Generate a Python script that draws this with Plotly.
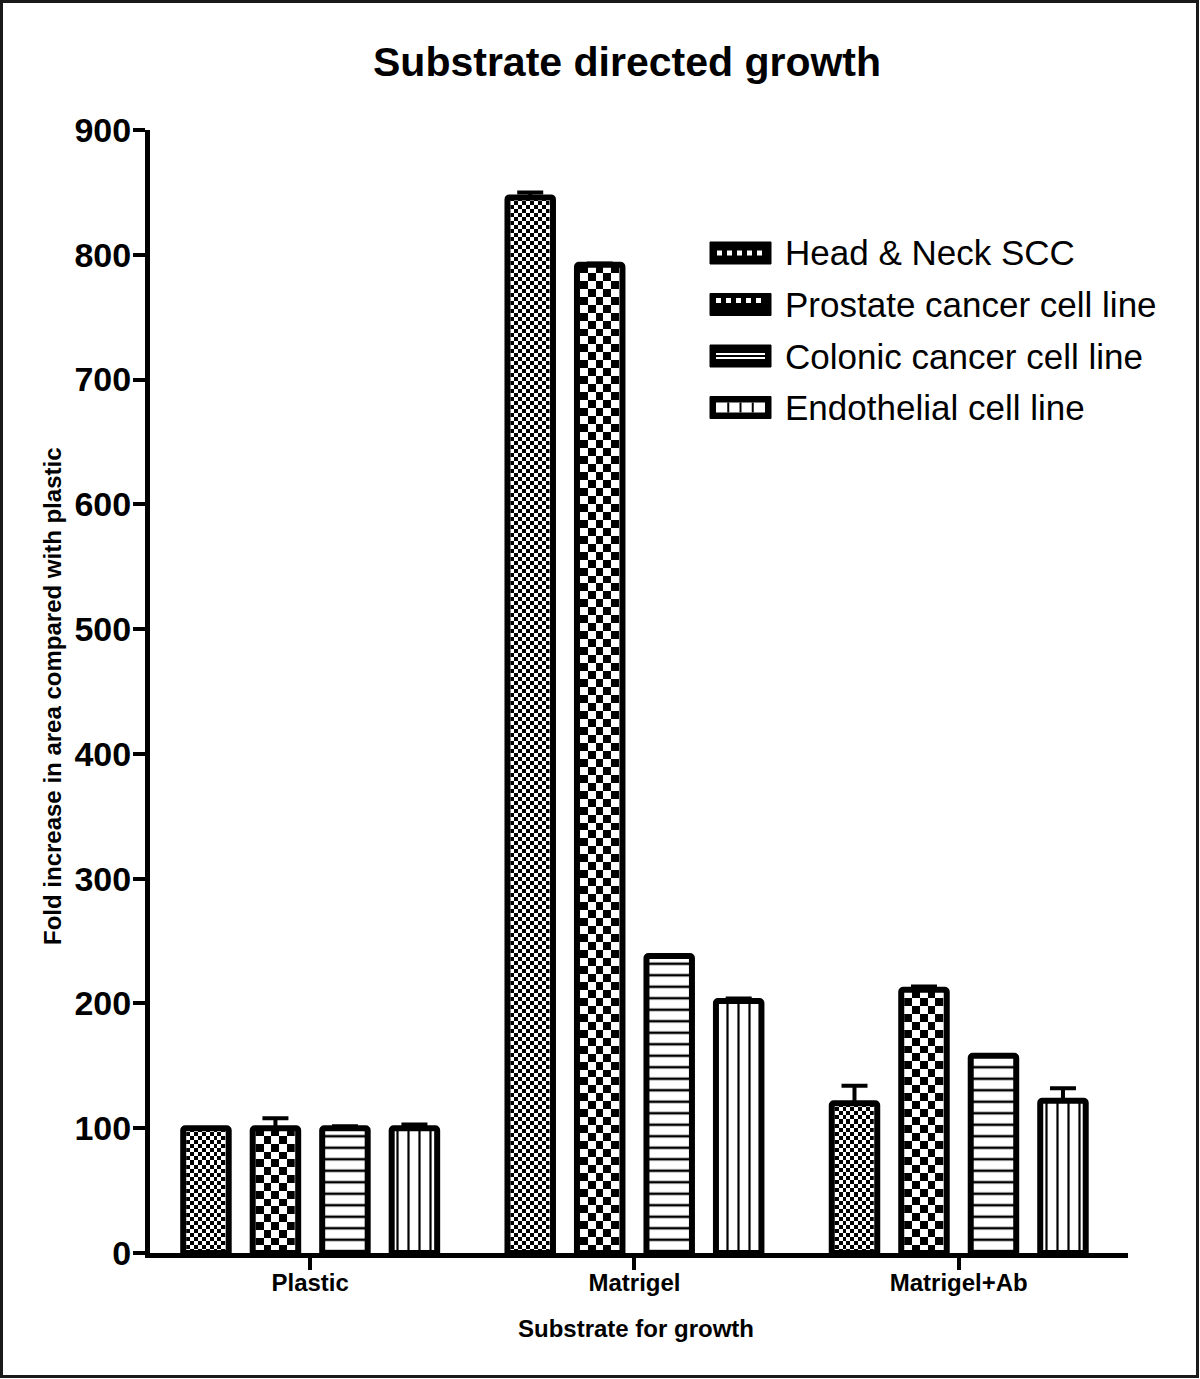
import plotly.graph_objects as go


CATEGORIES = ["Plastic", "Matrigel", "Matrigel+Ab"]

SERIES = [
    "Head & Neck SCC",
    "Prostate cancer cell line",
    "Colonic cancer cell line",
    "Endothelial cell line"
]

HEAD_NECK = [100, 846, 120]
PROSTATE = [100, 792, 211]
COLONIC = [100, 238, 158]
ENDOTHELIAL = [100, 202, 122]

HEAD_NECK_ERR = [0, 4, 14]
PROSTATE_ERR = [8, 1, 2.5]
COLONIC_ERR = [1.5, 0, 0.5]
ENDOTHELIAL_ERR = [3, 2, 10]

Y_TICKS = [0, 100, 200, 300, 400, 500, 600, 700, 800, 900]


# layout geometry (pixels of the 1200x1379 page)
W, H = 1200, 1379
PLOT_L, PLOT_R, PLOT_T, PLOT_B = 150, 1128, 130, 1253
X_RANGE = [-0.494, 2.522]
SLOT = 0.2143
BAR_W = 0.1403
OUTLINE = 6

PX_PER_X = (PLOT_R - PLOT_L) / (X_RANGE[1] - X_RANGE[0])
PX_PER_Y = (PLOT_B - PLOT_T) / 900

FONT = "Liberation Sans, Arial, sans-serif"


def px_x(p):
    return (p - PLOT_L) / (PLOT_R - PLOT_L)


def px_y(p):
    return (PLOT_B - p) / (PLOT_B - PLOT_T)


def checker(fig, x_center, value, cols, cell_px):
    inner = BAR_W - OUTLINE / PX_PER_X
    dx = inner / cols
    rows = max(1, round(value * PX_PER_Y / cell_px))
    dy = value / rows
    z = [[(r + c) % 2 for c in range(cols)] for r in range(rows)]
    fig.add_trace(
        go.Heatmap(
            z=z,
            x0=x_center - inner / 2 + dx / 2,
            dx=dx,
            y0=dy / 2,
            dy=dy,
            colorscale=[[0, "white"], [1, "black"]],
            zmin=0,
            zmax=1,
            showscale=False,
            hoverinfo="skip"
        )
    )


fig = go.Figure()

series_data = [
    (HEAD_NECK, HEAD_NECK_ERR),
    (PROSTATE, PROSTATE_ERR),
    (COLONIC, COLONIC_ERR),
    (ENDOTHELIAL, ENDOTHELIAL_ERR)
]

patterns = [
    None,
    None,
    dict(shape="-", fgcolor="black", bgcolor="white",
         size=11.5, solidity=0.22, fillmode="replace"),
    dict(shape="|", fgcolor="black", bgcolor="white",
         size=11, solidity=0.2, fillmode="replace")
]

checker_cfg = [(10, 4.0), (5, 8.0), None, None]

for i, (name, (vals, errs)) in enumerate(zip(SERIES, series_data)):

    shift = (i - 1.5) * SLOT
    xs = list(range(len(CATEGORIES)))

    if checker_cfg[i] is not None:
        cols, cell = checker_cfg[i]
        for g, v in zip(xs, vals):
            checker(fig, g + shift, v, cols, cell)

    marker = dict(
        color="rgba(0,0,0,0)" if patterns[i] is None else "white",
        line=dict(color="black", width=OUTLINE),
        cornerradius=2
    )
    if patterns[i] is not None:
        marker["pattern"] = patterns[i]

    fig.add_trace(
        go.Bar(
            x=xs,
            y=vals,
            name=name,
            width=BAR_W,
            offset=shift - BAR_W / 2,
            marker=marker,
            error_y=dict(
                type="data",
                symmetric=False,
                array=errs,
                arrayminus=[0] * len(errs),
                color="black",
                thickness=4,
                width=13
            ),
            showlegend=False
        )
    )


# custom legend (swatches + labels)
LEGEND_ROWS = [253, 304.5, 356, 407.5]
SW_L, SW_R, SW_H = 710, 771, 22

shapes = []
annotations = []

for i, (name, cy) in enumerate(zip(SERIES, LEGEND_ROWS)):

    shapes.append(dict(
        type="rect", xref="paper", yref="paper",
        x0=px_x(SW_L), x1=px_x(SW_R),
        y0=px_y(cy + SW_H / 2), y1=px_y(cy - SW_H / 2),
        fillcolor="black", line=dict(color="black", width=1)
    ))

    if i == 0:
        shapes.append(dict(
            type="line", xref="paper", yref="paper",
            x0=px_x(SW_L + 7), x1=px_x(SW_R - 7),
            y0=px_y(cy), y1=px_y(cy),
            line=dict(color="white", width=5, dash="dot")
        ))
    elif i == 1:
        shapes.append(dict(
            type="line", xref="paper", yref="paper",
            x0=px_x(SW_L + 6), x1=px_x(SW_R - 6),
            y0=px_y(cy - 4), y1=px_y(cy - 4),
            line=dict(color="white", width=5, dash="dot")
        ))
    elif i == 2:
        for off in (-2, 2):
            shapes.append(dict(
                type="line", xref="paper", yref="paper",
                x0=px_x(SW_L + 6), x1=px_x(SW_R - 6),
                y0=px_y(cy + off), y1=px_y(cy + off),
                line=dict(color="white", width=2)
            ))
    else:
        shapes.append(dict(
            type="rect", xref="paper", yref="paper",
            x0=px_x(SW_L + 6), x1=px_x(SW_R - 6),
            y0=px_y(cy + 5), y1=px_y(cy - 5),
            fillcolor="white", line=dict(width=0)
        ))
        for k in range(1, 4):
            xv = SW_L + 6 + k * (SW_R - SW_L - 12) / 4
            shapes.append(dict(
                type="line", xref="paper", yref="paper",
                x0=px_x(xv), x1=px_x(xv),
                y0=px_y(cy + 5), y1=px_y(cy - 5),
                line=dict(color="black", width=2)
            ))

    annotations.append(dict(
        text=name, xref="paper", yref="paper",
        x=px_x(783), y=px_y(cy),
        xanchor="left", yanchor="middle", showarrow=False,
        font=dict(family=FONT, size=35, color="black")
    ))

# page frame
shapes.append(dict(
    type="rect", xref="paper", yref="paper",
    x0=px_x(1.5), x1=px_x(W - 2.5),
    y0=px_y(H - 2.5), y1=px_y(1.5),
    line=dict(color="#1a1a1a", width=3)
))

annotations += [
    dict(
        text="Substrate directed growth", xref="paper", yref="paper",
        x=px_x(627), y=px_y(62), xanchor="center", yanchor="middle",
        showarrow=False,
        font=dict(family=FONT, size=41, color="black", weight="bold")
    ),
    dict(
        text="Fold increase in area compared with plastic",
        xref="paper", yref="paper",
        x=px_x(52), y=px_y(696), xanchor="center", yanchor="middle",
        textangle=-90, showarrow=False,
        font=dict(family="Liberation Sans Narrow, Arial Narrow, " + FONT,
                  size=24, color="black", weight="bold")
    ),
    dict(
        text="Substrate for growth", xref="paper", yref="paper",
        x=px_x(636), y=px_y(1328), xanchor="center", yanchor="middle",
        showarrow=False,
        font=dict(family=FONT, size=24, color="black", weight="bold")
    )
]

fig.update_layout(
    width=W,
    height=H,
    margin=dict(l=PLOT_L, r=W - PLOT_R, t=PLOT_T, b=H - PLOT_B),
    paper_bgcolor="white",
    plot_bgcolor="white",
    barmode="overlay",
    shapes=shapes,
    annotations=annotations,
    xaxis=dict(
        range=X_RANGE,
        tickvals=[0, 1, 2],
        ticktext=CATEGORIES,
        ticks="outside",
        ticklen=12,
        tickwidth=4,
        tickcolor="black",
        ticklabelstandoff=-8,
        showline=True,
        linecolor="black",
        linewidth=5,
        showgrid=False,
        zeroline=False,
        tickfont=dict(family=FONT, size=24, color="black", weight="bold")
    ),
    yaxis=dict(
        range=[0, 900],
        tickvals=Y_TICKS,
        ticks="outside",
        ticklen=12,
        tickwidth=4,
        tickcolor="black",
        ticklabelstandoff=-5,
        showline=True,
        linecolor="black",
        linewidth=5,
        showgrid=False,
        zeroline=False,
        tickfont=dict(family=FONT, size=34, color="black", weight="bold")
    ),
    showlegend=False
)

# the browser's default 8px body margin would shift the whole page
fig.write_html(
    "out.html",
    config={"displayModeBar": False},
    post_script="document.body.style.margin = '0';"
)
